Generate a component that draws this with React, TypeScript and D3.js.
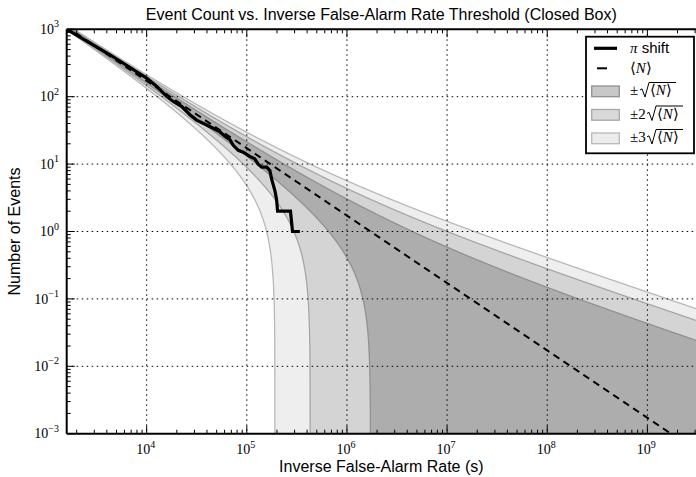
import React, { useEffect } from 'react'
import * as d3 from 'd3'

// expected background count <N> = LIVETIME / IFAR
const LIVETIME = 1.72e6
const X_MIN = 1.59e3
const X_MAX = 3.06e9

// pi shift event counts
const ifarValues = [1590, 4300, 10000, 12600, 15800, 18400, 22300, 27000, 31500, 39700, 46200, 53900,
  60500, 67800, 73200, 82100, 92100, 107000, 120000, 130000, 141000, 158000, 170000, 177000,
  191000, 198000, 203000, 273000, 286000, 339000]
const eventCounts = [1000, 419, 189, 142, 101, 85, 72, 54, 45, 38, 34, 30,
  26, 23, 19, 16, 15, 13, 12, 10, 9, 9, 8, 6,
  4, 3, 2, 2, 1, 1]

const xTickExps = [4, 5, 6, 7, 8, 9]
const yTickExps = [-3, -2, -1, 0, 1, 2, 3]
const sigmas = [3, 2, 1]
const bandFill: Record<number, string> = { 1: '#adadad', 2: '#d4d4d4', 3: '#eeeeee' }
const bandEdge: Record<number, string> = { 1: '#919191', 2: '#a6a6a6', 3: '#b8b8b8' }
const swatchFill: Record<number, string> = { 1: '#c8c8c8', 2: '#d9d9d9', 3: '#ececec' }

const W = 696, H = 477
const left = 66.7, right = 696, top = 29.3, bottom = 433.7

const sup = (base: string, e: number) => (
  <>
    <tspan>{base}</tspan>
    <tspan dy={-6.5} fontSize={10}>{e < 0 ? '\u2212' + Math.abs(e) : e}</tspan>
  </>
)

export default function App() {
  useEffect(() => { document.body.style.margin = '0' }, [])

  const x = d3.scaleLog().domain([X_MIN, X_MAX]).range([left, right])
  const y = d3.scaleLog().domain([1e-3, 1e3]).range([bottom, top])

  const grid = d3.range(Math.log10(X_MIN) - 0.01, Math.log10(X_MAX) + 0.01, 0.002).map(l => Math.pow(10, l))
  const expected = (t: number) => LIVETIME / t
  const safe = (v: number) => (v > 1e-7 ? v : 1e-7)

  const lineGen = d3.line<number>().x(t => x(t)).y(t => y(safe(expected(t))))
  const stepLine = d3.line<number>().x((_, i) => x(ifarValues[i])).y(c => y(c))

  const minorX: number[] = []
  for (let d = 3; d <= 9; d++) for (let m = 2; m <= 9; m++) {
    const v = m * Math.pow(10, d)
    if (v > X_MIN && v < X_MAX) minorX.push(v)
  }
  const minorY: number[] = []
  for (let d = -3; d < 3; d++) for (let m = 2; m <= 9; m++) minorY.push(m * Math.pow(10, d))

  const serif = '"Liberation Serif", "DejaVu Serif", serif'
  const sans = '"Liberation Sans", Arial, sans-serif'

  const legendRows = [
    { k: 1, y: 95 },
    { k: 2, y: 118.5 },
    { k: 3, y: 142 },
  ]

  return (
    <svg width={W} height={H} style={{ display: 'block', background: '#fff' }}>
      <defs>
        <clipPath id="plot">
          <rect x={left} y={top} width={right - left} height={bottom - top} />
        </clipPath>
      </defs>
      <g clipPath="url(#plot)">
        {sigmas.map(k => {
          const area = d3.area<number>()
            .x(t => x(t))
            .y0(t => { const n = expected(t); return y(safe(n - k * Math.sqrt(n))) })
            .y1(t => { const n = expected(t); return y(n + k * Math.sqrt(n)) })
          return <path key={'a' + k} d={area(grid) || ''} fill={bandFill[k]} stroke="none" />
        })}
        {sigmas.map(k => {
          const up = d3.line<number>().x(t => x(t)).y(t => { const n = expected(t); return y(n + k * Math.sqrt(n)) })
          const lo = d3.line<number>().x(t => x(t)).y(t => { const n = expected(t); return y(safe(n - k * Math.sqrt(n))) })
          return (
            <g key={'e' + k} fill="none" stroke={bandEdge[k]} strokeWidth={1.3}>
              <path d={up(grid) || ''} />
              <path d={lo(grid) || ''} />
            </g>
          )
        })}
        <g stroke="#000" strokeWidth={1} strokeDasharray="1.5,3.5">
          {xTickExps.map(e => (
            <line key={'gx' + e} x1={x(Math.pow(10, e))} x2={x(Math.pow(10, e))} y1={top} y2={bottom} />
          ))}
          {yTickExps.slice(1, -1).map(e => (
            <line key={'gy' + e} x1={left} x2={right} y1={y(Math.pow(10, e))} y2={y(Math.pow(10, e))} />
          ))}
        </g>
        <path d={lineGen(grid) || ''} fill="none" stroke="#000" strokeWidth={2} strokeDasharray="7,5" />
        <path d={stepLine(eventCounts) || ''} fill="none" stroke="#000" strokeWidth={3.2} strokeLinejoin="miter" />
      </g>

      {/* ticks */}
      <g stroke="#000" strokeWidth={1}>
        {xTickExps.map(e => {
          const px = x(Math.pow(10, e))
          return (
            <g key={'tx' + e}>
              <line x1={px} x2={px} y1={bottom} y2={bottom - 8} />
              <line x1={px} x2={px} y1={top} y2={top + 8} />
            </g>
          )
        })}
        {minorX.map((v, i) => (
          <g key={'mx' + i}>
            <line x1={x(v)} x2={x(v)} y1={bottom} y2={bottom - 4} />
            <line x1={x(v)} x2={x(v)} y1={top} y2={top + 4} />
          </g>
        ))}
        {yTickExps.map(e => (
          <line key={'ty' + e} x1={left} x2={left + 8} y1={y(Math.pow(10, e))} y2={y(Math.pow(10, e))} />
        ))}
        {minorY.map((v, i) => (
          <line key={'my' + i} x1={left} x2={left + 4} y1={y(v)} y2={y(v)} />
        ))}
      </g>
      <g stroke="#000" strokeWidth={2} fill="none">
        <line x1={left} x2={right} y1={bottom} y2={bottom} />
        <line x1={left} x2={right} y1={top} y2={top} />
        <line x1={left} x2={left} y1={top} y2={bottom} />
      </g>

      {/* tick labels */}
      <g fontFamily={serif} fontSize={14} fill="#000">
        {xTickExps.map(e => (
          <text key={'lx' + e} x={x(Math.pow(10, e)) - 1} y={454} textAnchor="middle">{sup('10', e)}</text>
        ))}
        {yTickExps.map(e => (
          <text key={'ly' + e} x={59} y={y(Math.pow(10, e)) + 4.6} textAnchor="end">{sup('10', e)}</text>
        ))}
      </g>

      {/* titles */}
      <text x={(left + right) / 2} y={20} textAnchor="middle" fontFamily={sans} fontSize={16}>
        Event Count vs. Inverse False-Alarm Rate Threshold (Closed Box)
      </text>
      <text x={(left + right) / 2} y={472} textAnchor="middle" fontFamily={sans} fontSize={16}>
        Inverse False-Alarm Rate (s)
      </text>
      <text transform={`translate(20,${(top + bottom) / 2}) rotate(-90)`} textAnchor="middle" fontFamily={sans} fontSize={16}>
        Number of Events
      </text>

      {/* legend */}
      <g>
        <rect x={586} y={36.7} width={108} height={116.6} fill="#fff" stroke="#000" strokeWidth={1.8} />
        <line x1={594} x2={617} y1={48.3} y2={48.3} stroke="#000" strokeWidth={3.2} />
        <text x={630} y={53} fontSize={15}>
          <tspan fontFamily={serif} fontStyle="italic">{'\u03c0'}</tspan>
          <tspan fontFamily={sans}> shift</tspan>
        </text>
        <line x1={597} x2={607} y1={68.3} y2={68.3} stroke="#000" strokeWidth={2} />
        <text x={630} y={73} fontSize={15} fontFamily={serif}>
          {'\u27e8'}<tspan fontStyle="italic">N</tspan>{'\u27e9'}
        </text>
        {legendRows.map(r => {
          const x0 = 630
          const rx = x0 + (r.k > 1 ? 17 : 10)
          return (
            <g key={'lg' + r.k}>
              <rect x={591.7} y={r.y - 9} width={27.6} height={10.7} fill={swatchFill[r.k]} stroke={bandEdge[r.k]} strokeWidth={1.3} />
              <text x={x0} y={r.y} fontSize={15} fontFamily={serif}>
                {'\u00b1'}{r.k > 1 ? String(r.k) : ''}
              </text>
              <path d={`M${rx},${r.y - 5} L${rx + 2},${r.y - 6.2} L${rx + 5},${r.y + 2} L${rx + 9},${r.y - 12.5} L${rx + 36},${r.y - 12.5}`}
                fill="none" stroke="#000" strokeWidth={1} />
              <text x={rx + 10} y={r.y} fontSize={15} fontFamily={serif}>
                {'\u27e8'}<tspan fontStyle="italic">N</tspan>{'\u27e9'}
              </text>
            </g>
          )
        })}
      </g>
    </svg>
  )
}
